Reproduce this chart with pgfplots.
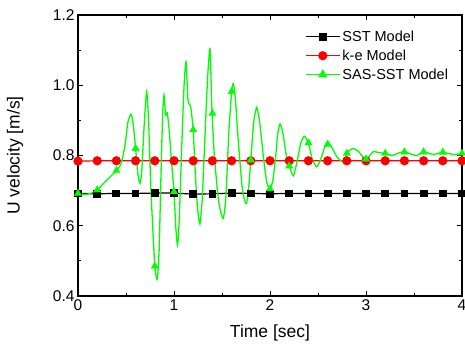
\documentclass[border=0pt]{standalone}
\usepackage{pgfplots}
\pgfplotsset{compat=1.18}
\usepackage{fontspec}
\setmainfont{Liberation Sans}
\definecolor{ogreen}{RGB}{0,255,0}
\definecolor{ored}{RGB}{255,0,0}
\begin{document}
\begin{tikzpicture}
\begin{axis}[
  name=ax,
  width=384pt, height=281pt, scale only axis,
  xmin=0, xmax=4, ymin=0.4, ymax=1.2,
  xtick={0,1,2,3,4}, ytick={0.4,0.6,0.8,1.0,1.2},
  minor x tick num=1, minor y tick num=1,
  tick align=inside,
  major tick length=5pt, minor tick length=3pt,
  axis line style={line width=1.2pt},
  every tick/.style={black, line width=0.8pt},
  /pgf/number format/assume math mode=true,
  ticklabel style={font=\fontsize{15.5}{16}\selectfont},
  yticklabel style={/pgf/number format/fixed, /pgf/number format/fixed zerofill, /pgf/number format/precision=1},
  xlabel={Time [sec]}, ylabel={U velocity [m/s]},
  label style={font=\fontsize{17.5}{18}\selectfont},
  xlabel style={at={(axis description cs:0.5,-0.132)}, anchor=center},
  ylabel style={at={(axis description cs:-0.164,0.5)}, anchor=center},
  legend style={at={(rel axis cs:0.591,0.952)}, anchor=north west, draw=none, fill=none,
    font=\fontsize{14.5}{15}\selectfont, inner sep=0pt, row sep=3pt,
    nodes={inner sep=2pt}},
  legend cell align=left,
  legend image code/.code={\draw[mark repeat=2,mark phase=2,#1] plot coordinates {(0pt,0pt) (17pt,0pt) (34pt,0pt)};},
]
\addplot[black, line width=1.2pt, mark=square*, mark size=3.3pt] coordinates {
(0,0.692)(0.2,0.691)(0.4,0.692)(0.6,0.692)(0.8,0.693)(1.0,0.693)(1.2,0.690)(1.4,0.691)(1.6,0.693)(1.8,0.692)(2.0,0.691)
(2.2,0.692)(2.4,0.692)(2.6,0.692)(2.8,0.692)(3.0,0.692)(3.2,0.692)(3.4,0.692)(3.6,0.692)(3.8,0.692)(4.0,0.692)};
\addlegendentry{SST Model}
\addplot[ored, line width=1.2pt, mark=*, mark size=4pt] coordinates {
(0,0.784)(0.2,0.785)(0.4,0.785)(0.6,0.785)(0.8,0.785)(1.0,0.785)(1.2,0.785)(1.4,0.785)(1.6,0.785)(1.8,0.785)(2.0,0.785)
(2.2,0.785)(2.4,0.785)(2.6,0.785)(2.8,0.785)(3.0,0.785)(3.2,0.785)(3.4,0.785)(3.6,0.785)(3.8,0.785)(4.0,0.785)};
\addlegendentry{k-e Model}
\addplot[ogreen, line width=1.3pt, smooth, tension=0.35, forget plot] coordinates {
(0,0.692)(0.05,0.690)(0.1,0.690)(0.15,0.694)(0.2,0.702)(0.3,0.730)(0.4,0.757)(0.45,0.778)(0.49,0.83)(0.52,0.895)
(0.552,0.918)(0.575,0.89)(0.6,0.82)(0.625,0.745)(0.646,0.721)(0.665,0.76)(0.69,0.89)(0.715,0.982)(0.735,0.90)(0.76,0.70)
(0.8,0.485)(0.826,0.448)(0.845,0.53)(0.865,0.75)(0.882,0.92)(0.896,0.972)(0.912,0.915)(0.93,0.922)(0.95,0.87)(0.975,0.78)
(1.0,0.697)(1.02,0.59)(1.037,0.545)(1.055,0.62)(1.08,0.82)(1.105,1.00)(1.125,1.067)(1.145,0.96)(1.16,0.945)(1.174,0.939)
(1.2,0.873)(1.22,0.76)(1.245,0.65)(1.27,0.605)(1.295,0.68)(1.32,0.84)(1.35,1.02)(1.375,1.105)(1.395,0.93)(1.42,0.80)
(1.46,0.68)(1.49,0.635)(1.514,0.621)(1.54,0.68)(1.57,0.86)(1.6,0.982)(1.618,1.005)(1.64,0.96)(1.67,0.84)(1.71,0.71)
(1.735,0.672)(1.757,0.664)(1.78,0.715)(1.8,0.787)(1.83,0.895)(1.861,0.937)(1.89,0.90)(1.93,0.80)(1.965,0.725)(2.0,0.705)
(2.03,0.73)(2.06,0.80)(2.08,0.86)(2.104,0.890)(2.13,0.87)(2.17,0.80)(2.2,0.770)(2.243,0.742)(2.28,0.78)(2.32,0.835)
(2.357,0.855)(2.40,0.836)(2.44,0.79)(2.486,0.768)(2.53,0.79)(2.57,0.825)(2.60,0.836)(2.64,0.825)(2.70,0.795)(2.764,0.782)
(2.80,0.806)(2.83,0.815)(2.868,0.820)(2.92,0.812)(2.97,0.795)(3.0,0.789)(3.04,0.80)(3.076,0.811)(3.14,0.808)(3.2,0.806)
(3.27,0.800)(3.33,0.806)(3.39,0.811)(3.45,0.806)(3.53,0.800)(3.6,0.811)(3.70,0.803)(3.8,0.809)(3.91,0.803)(4.0,0.806)};
\addplot[ogreen, only marks, mark=triangle*, mark size=4.2pt, forget plot] coordinates {
(0,0.692)(0.2,0.702)(0.4,0.757)(0.6,0.82)(0.8,0.485)(1.0,0.697)(1.2,0.873)(1.4,0.92)(1.6,0.982)(1.8,0.787)(2.0,0.705)
(2.2,0.770)(2.4,0.836)(2.6,0.832)(2.8,0.806)(3.0,0.790)(3.2,0.806)(3.4,0.810)(3.6,0.810)(3.8,0.809)(4.0,0.806)};
\addlegendimage{ogreen, line width=1.3pt, mark=triangle*, mark size=4.2pt}
\addlegendentry{SAS-SST Model}
\end{axis}
\pgfresetboundingbox
\path ([xshift=-78pt,yshift=-54pt]ax.south west) rectangle ([xshift=3pt,yshift=15pt]ax.north east);
\end{tikzpicture}
\end{document}
